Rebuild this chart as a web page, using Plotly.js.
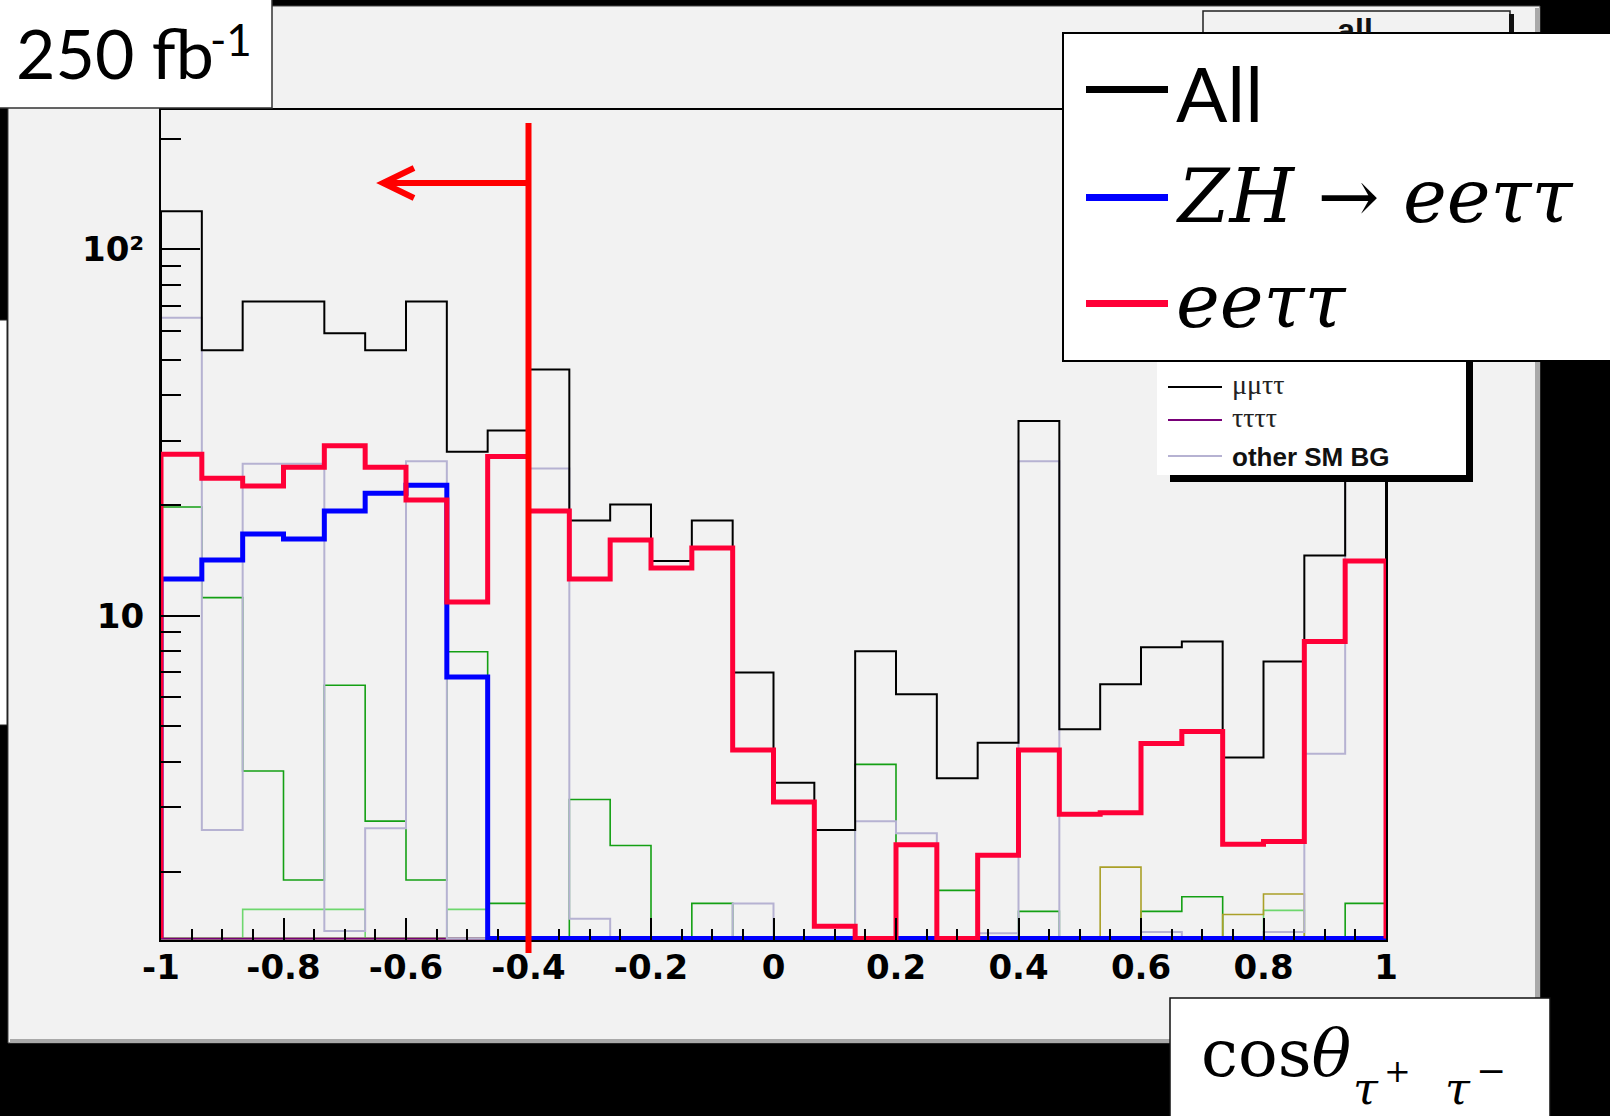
<!DOCTYPE html>
<html>
<head>
<meta charset="utf-8">
<script src="https://cdn.plot.ly/plotly-3.0.1.min.js"></script>
<style>
html,body{margin:0;padding:0;background:#000;}
#chart{width:1610px;height:1116px;}
</style>
</head>
<body>
<div id="chart"></div>
<script>
// ---------------- data ----------------
const xRange = [-1, 1];
const nBins = 30;
const xTickVals = [-1, -0.8, -0.6, -0.4, -0.2, 0, 0.2, 0.4, 0.6, 0.8, 1];
const xTickText = ["-1", "-0.8", "-0.6", "-0.4", "-0.2", "0", "0.2", "0.4", "0.6", "0.8", "1"];
const yTickVals = [10, 100];
const yTickText = ["10", "10²"];
const yMinorVals = [2, 3, 4, 5, 6, 7, 8, 9, 20, 30, 40, 50, 60, 70, 80, 90, 200];
const logRange = [0.115, 2.38];
const cutValue = -0.4;

const allEvents   = [127, 53, 72, 72, 59, 53, 72, 28, 32, 47, 18.2, 20.1, 14.1, 18.2, 7.0, 3.5, 2.6, 8.0, 6.1, 3.6, 4.5, 34, 4.9, 6.5, 8.2, 8.5, 4.1, 7.5, 14.6, 50];
const zhEETauTau  = [12.6, 14.2, 16.7, 16.2, 19.3, 21.6, 22.7, 6.8, 0, 0, 0, 0, 0, 0, 0, 0, 0, 0, 0, 0, 0, 0, 0, 0, 0, 0, 0, 0, 0, 0];
const eeTauTau    = [27.6, 23.7, 22.6, 25.4, 29.1, 25.4, 20.7, 10.9, 27.2, 19.3, 12.6, 16.1, 13.5, 15.3, 4.3, 3.1, 1.42, 0, 2.37, 0, 2.22, 4.3, 2.87, 2.9, 4.48, 4.83, 2.38, 2.42, 8.5, 14.1];
const otherSMBG   = [65, 2.6, 26, 26, 1.38, 2.63, 26.4, 0, 0, 25.2, 1.49, 0, 0, 0, 1.64, 0, 0, 2.75, 2.55, 0, 1.36, 26.4, 0, 0, 1.37, 0, 0, 1.37, 4.2, 28];
const bgGreen     = [19.8, 11.2, 3.77, 1.9, 6.46, 2.75, 1.9, 7.97, 1.64, 0, 3.15, 2.36, 0, 1.64, 0, 0, 0, 3.93, 0, 1.78, 0, 1.56, 0, 0, 1.56, 1.71, 0, 0, 0, 1.64];
const bgLightGreen= [0, 0, 1.58, 1.58, 1.58, 0, 0, 1.58, 0, 0, 0, 0, 0, 0, 0, 0, 0, 0, 0, 0, 0, 0, 0, 0, 0, 0, 0, 1.57, 0, 0];
const bgOlive     = [0, 0, 0, 0, 0, 0, 0, 0, 0, 0, 0, 0, 0, 0, 0, 0, 0, 0, 0, 0, 0, 0, 0, 2.06, 0, 0, 1.53, 1.74, 0, 0];
const tauTauTauTau= [0, 0, 0, 0, 0, 0, 0, 0, 0, 0, 0, 0, 0, 0, 0, 0, 0, 0, 0, 0, 0, 0, 0, 0, 0, 0, 0, 0, 0, 0];
const muMuTauTau  = [0, 0, 0, 0, 0, 0, 0, 0, 0, 0, 0, 0, 0, 0, 0, 0, 0, 0, 0, 0, 0, 0, 0, 0, 0, 0, 0, 0, 0, 0];

// ---------------- geometry ----------------
const W = 1610, H = 1116, L = 161, R = 1386, T = 110, B = 940;
const px = X => (X - L) / (R - L);
const py = Y => (B - Y) / (B - T);
const dataToPaperX = v => (v - xRange[0]) / (xRange[1] - xRange[0]);

const FLOOR = Math.pow(10, logRange[0] + 0.004);
const edges = Array.from({length: nBins + 1}, (_, i) => xRange[0] + i * (xRange[1] - xRange[0]) / nBins);

function stepTrace(vals, name, color, width) {
  const v = vals.map(d => d > 0 ? d : FLOOR);
  const x = [edges[0]].concat(edges.slice(0, nBins), [edges[nBins], edges[nBins]]);
  const y = [FLOOR].concat(v, [v[nBins - 1], FLOOR]);
  return {type: 'scatter', mode: 'lines', x: x, y: y, name: name,
          line: {shape: 'hv', color: color, width: width},
          hoverinfo: 'skip', showlegend: false};
}

const RED = 'rgb(255,0,55)';
const BLUE = 'rgb(0,0,255)';
const PURPLE = 'rgb(120,0,120)';
const LAVENDER = 'rgb(182,178,210)';
const traces = [
  stepTrace(muMuTauTau, 'μμττ', '#000000', 1.5),
  stepTrace(bgGreen, 'background (green)', 'rgb(20,160,20)', 1.6),
  stepTrace(bgLightGreen, 'background (light green)', 'rgb(110,215,110)', 1.6),
  stepTrace(bgOlive, 'background (olive)', 'rgb(170,160,40)', 1.6),
  stepTrace(tauTauTauTau, 'ττττ', PURPLE, 1.8),
  stepTrace(otherSMBG, 'other SM BG', LAVENDER, 2),
  stepTrace(allEvents, 'All', '#000000', 2),
  stepTrace(zhEETauTau, 'ZH → eeττ', BLUE, 5),
  stepTrace(eeTauTau, 'eeττ', RED, 5)
];

function rect(x0, y0, x1, y1, fill, lineColor, lineWidth, layer) {
  return {type: 'rect', xref: 'paper', yref: 'paper', layer: layer || 'above',
          x0: px(x0), x1: px(x1), y0: py(y1), y1: py(y0),
          fillcolor: fill, line: {color: lineColor || 'rgba(0,0,0,0)', width: lineWidth || 0}};
}
function hline(x0, x1, y, color, width) {
  return {type: 'line', xref: 'paper', yref: 'paper', layer: 'above',
          x0: px(x0), x1: px(x1), y0: py(y), y1: py(y), line: {color: color, width: width}};
}

const cutX = dataToPaperX(cutValue);
const shapes = [
  // ROOT canvas
  rect(8, 6, 1540, 1043, '#f2f2f2', '#444', 1, 'below'),
  rect(10, 1039, 1540, 1043, '#a9a9a9', null, 0, 'below'),
  rect(1535, 8, 1540, 1043, '#a9a9a9', null, 0, 'below'),
  // white strip on the left edge
  rect(-3, 320, 7, 725, '#ffffff', '#222', 1),
  // "250 fb-1" box
  rect(-4, -4, 272, 108, '#ffffff', '#333', 1.5),
  // ROOT title box "all"
  rect(1203, 11, 1510, 70, '#f2f2f2', '#222', 1.5),
  rect(1509, 14, 1514, 70, '#111', null, 0),
  // ROOT legend box
  rect(1157, 340, 1466, 475, '#ffffff', null, 0),
  rect(1466, 352, 1473, 482, '#000', null, 0),
  rect(1170, 475, 1473, 482, '#000', null, 0),
  hline(1168, 1222, 387, '#000', 2),
  hline(1168, 1222, 420, PURPLE, 2),
  hline(1168, 1222, 456, LAVENDER, 2),
  // overlay legend box
  rect(1063, 33, 1640, 361, '#ffffff', '#000', 2),
  hline(1086, 1168, 89.5, '#000', 7),
  hline(1086, 1168, 197.5, BLUE, 7),
  hline(1086, 1168, 303.5, RED, 7),
  // cut line and arrow
  {type: 'line', xref: 'paper', yref: 'paper', layer: 'above',
   x0: cutX, x1: cutX, y0: py(953), y1: py(123), line: {color: '#ff0000', width: 6}},
  {type: 'line', xref: 'paper', yref: 'paper', layer: 'above',
   x0: cutX, x1: px(384), y0: py(183), y1: py(183), line: {color: '#ff0000', width: 6}},
  {type: 'path', xref: 'paper', yref: 'paper', layer: 'above',
   path: 'M ' + px(414) + ',' + py(168) + ' L ' + px(383) + ',' + py(183) + ' L ' + px(414) + ',' + py(198),
   line: {color: '#ff0000', width: 6}},
  // x label box
  rect(1170, 998, 1550, 1125, '#ffffff', '#111', 1.5)
];

function txt(text, x, y, opts) {
  return Object.assign({xref: 'paper', yref: 'paper', x: px(x), y: py(y), text: text,
    showarrow: false, xanchor: 'left', yanchor: 'middle', borderpad: 0, borderwidth: 0}, opts);
}

const SERIF = 'DejaVu Serif';
const annotations = [
  txt('250 fb', 16, 93, {yanchor: 'bottom', font: {family: 'Lato', size: 68, color: '#000'}}),
  txt('-1', 210, 13, {yanchor: 'top', font: {family: 'Lato', size: 44, color: '#000'}}),
  // ROOT title, mostly hidden under the overlay legend: clipped to its visible top strip
  txt('<b>all</b>', 1355, 12, {xanchor: 'center', yanchor: 'top', valign: 'top', width: 80, height: 21,
    font: {family: 'Liberation Sans', size: 32, color: '#111'}}),
  txt('μμττ', 1232, 384, {font: {family: 'Liberation Serif', size: 28, color: '#222'}}),
  txt('ττττ', 1232, 417, {font: {family: 'Liberation Serif', size: 28, color: '#222'}}),
  txt('<b>other SM BG</b>', 1232, 457, {font: {family: 'Liberation Sans', size: 26, color: '#111'}}),
  // overlay legend
  txt('All', 1176, 93, {font: {family: 'Lato', size: 76, color: '#000'}}),
  txt('<i>ZH</i> → <i>eeττ</i>', 1176, 196, {font: {family: SERIF, size: 74, color: '#000'}}),
  txt('<i>eeττ</i>', 1176, 301, {font: {family: SERIF, size: 74, color: '#000'}}),
  // x label: cos θ_{τ+ τ-}
  txt('cos<i>θ</i>', 1201, 1053, {font: {family: SERIF, size: 66, color: '#000'}}),
  txt('<i>τ</i>', 1353, 1115, {yanchor: 'bottom', font: {family: SERIF, size: 45, color: '#000'}}),
  txt('+', 1384, 1071, {font: {family: SERIF, size: 32, color: '#000'}}),
  txt('<i>τ</i>', 1445, 1115, {yanchor: 'bottom', font: {family: SERIF, size: 45, color: '#000'}}),
  txt('−', 1476, 1070, {font: {family: SERIF, size: 36, color: '#000'}})
];

const tickFont = {family: 'DejaVu Sans', size: 34, color: '#000', weight: 'bold'};
const layout = {
  width: W, height: H,
  margin: {l: L, r: W - R, t: T, b: H - B, pad: 0},
  paper_bgcolor: '#000000',
  plot_bgcolor: '#f2f2f2',
  showlegend: false,
  xaxis: {
    range: xRange, tickmode: 'array', tickvals: xTickVals, ticktext: xTickText,
    ticks: 'inside', ticklen: 22, tickwidth: 2, tickcolor: '#000',
    showline: true, linecolor: '#000', linewidth: 2, mirror: true,
    showgrid: false, zeroline: false, tickfont: tickFont, ticklabelstandoff: -4,
    minor: {tickmode: 'linear', tick0: -1, dtick: 0.05, ticks: 'inside', ticklen: 11, tickwidth: 2, tickcolor: '#000', showgrid: false},
    fixedrange: true
  },
  yaxis: {
    type: 'log', range: logRange, tickmode: 'array', tickvals: yTickVals, ticktext: yTickText,
    ticks: 'inside', ticklen: 39, tickwidth: 2, tickcolor: '#000',
    showline: true, linecolor: '#000', linewidth: 2, mirror: true,
    showgrid: false, zeroline: false, tickfont: tickFont, ticklabelstandoff: 8,
    minor: {tickmode: 'array', tickvals: yMinorVals, ticks: 'inside', ticklen: 20, tickwidth: 2, tickcolor: '#000', showgrid: false},
    fixedrange: true
  },
  shapes: shapes,
  annotations: annotations
};

Plotly.newPlot('chart', traces, layout, {staticPlot: true, displayModeBar: false});
</script>
</body>
</html>
